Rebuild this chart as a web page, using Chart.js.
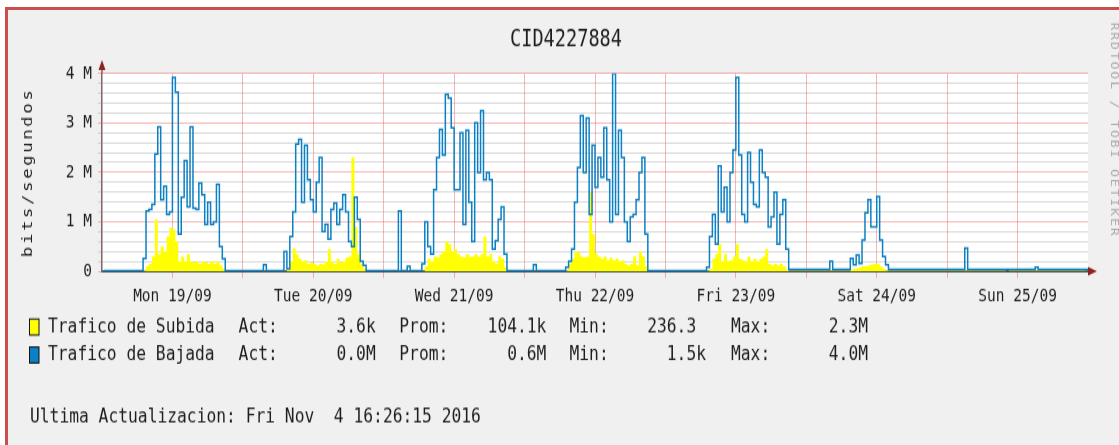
<!DOCTYPE html>
<html lang="es">
<head>
<meta charset="UTF-8">
<title>CID4227884</title>
<script src="https://cdn.jsdelivr.net/npm/chart.js"></script>
<style>
  html, body { margin: 0; padding: 0; background: #fff; }
  body { width: 1119px; height: 445px; position: relative; overflow: hidden; }
  .marco {
    position: absolute; left: 5px; top: 7px; right: 0; bottom: 0;
    border-top: 3px solid #c94f4f; border-left: 3px solid #c94f4f;
    background: #f0f0f0;
  }
  /* rrdtool text is tall and narrow, so the whole canvas is stretched vertically */
  #grafico { position: absolute; left: 0; top: 0; transform: scaleY(1.25); transform-origin: 0 0; }
</style>
</head>
<body>
<div class="marco"></div>
<canvas id="grafico" width="1119" height="356"></canvas>

<script>
// half-hour samples (Mbit/s), one array per day, 00:00 .. 23:30
const bajadaLun = [
  0.0015, 0.01, 0.01, 0.01, 0.01, 0.01, 0.01, 0.01, 0.01, 0.01, 0.01, 0.01, 0.01, 0.01,
  0.26, 1.22, 1.25, 1.35, 2.37, 2.92, 1.45, 1.72, 1.15, 1.2, 3.92, 3.62, 0.75, 1.5,
  2.24, 1.3, 2.92, 1.28, 1.25, 1.78, 1.55, 0.95, 1.4, 0.95, 1.0, 1.76, 0.5, 0.25,
  0.01, 0.01, 0.01, 0.01, 0.01, 0.01
];
const bajadaMar = [
  0.01, 0.01, 0.01, 0.01, 0.01, 0.01, 0.01, 0.13, 0.01, 0.01, 0.01, 0.01, 0.01, 0.01,
  0.4, 0.05, 0.7, 1.2, 2.57, 2.67, 1.4, 2.55, 1.85, 1.45, 1.2, 1.8, 2.3, 0.8,
  0.95, 0.65, 1.25, 1.38, 0.95, 1.25, 1.55, 1.2, 0.6, 0.5, 1.5, 1.05, 0.2, 0.12,
  0.01, 0.01, 0.01, 0.01, 0.01, 0.01
];
const bajadaMie = [
  0.01, 0.01, 0.01, 0.01, 0.01, 1.22, 0.01, 0.01, 0.1, 0.01, 0.01, 0.01, 0.01, 0.15,
  1.0, 0.5, 0.35, 1.65, 2.3, 2.87, 2.35, 3.58, 3.5, 2.9, 1.65, 1.65, 2.8, 0.95,
  2.85, 1.4, 0.6, 3.0, 2.0, 3.25, 1.85, 2.0, 1.85, 0.45, 0.62, 1.05, 1.3, 0.35,
  0.01, 0.01, 0.01, 0.01, 0.01, 0.01
];
const bajadaJue = [
  0.01, 0.01, 0.01, 0.13, 0.01, 0.01, 0.01, 0.01, 0.01, 0.01, 0.01, 0.01, 0.01, 0.01,
  0.08, 0.2, 0.45, 1.4, 2.1, 3.15, 2.0, 3.1, 1.15, 2.55, 1.7, 2.3, 1.9, 2.9,
  1.85, 1.0, 4.0, 1.15, 2.85, 2.3, 1.0, 0.6, 1.1, 1.15, 1.45, 2.0, 2.3, 0.75,
  0.01, 0.01, 0.01, 0.01, 0.01, 0.01
];
const bajadaVie = [
  0.01, 0.01, 0.01, 0.01, 0.01, 0.01, 0.01, 0.01, 0.01, 0.01, 0.01, 0.01, 0.01, 0.01,
  0.08, 0.7, 1.15, 0.55, 2.13, 1.2, 1.7, 1.0, 2.0, 2.45, 3.92, 2.35, 1.15, 1.0,
  2.4, 1.8, 1.35, 1.3, 2.45, 2.0, 1.9, 0.9, 1.1, 1.6, 0.55, 1.15, 1.45, 0.45,
  0.035, 0.035, 0.035, 0.035, 0.035, 0.035
];
const bajadaSab = [
  0.035, 0.035, 0.035, 0.035, 0.035, 0.035, 0.035, 0.035, 0.2, 0.035, 0.035, 0.035, 0.035, 0.035,
  0.035, 0.26, 0.13, 0.33, 0.16, 0.63, 1.18, 1.45, 0.9, 0.9, 1.51, 0.63, 0.3, 0.13,
  0.035, 0.035, 0.035, 0.035, 0.035, 0.035, 0.035, 0.035, 0.035, 0.035, 0.035, 0.035, 0.035, 0.035,
  0.035, 0.035, 0.035, 0.035, 0.035, 0.035
];
const bajadaDom = [
  0.035, 0.035, 0.035, 0.035, 0.035, 0.035, 0.47, 0.035, 0.035, 0.035, 0.035, 0.035, 0.035, 0.035,
  0.035, 0.035, 0.035, 0.035, 0.035, 0.035, 0.035, 0.035, 0.035, 0.035, 0.035, 0.035, 0.035, 0.035,
  0.035, 0.035, 0.08, 0.035, 0.035, 0.035, 0.035, 0.035, 0.035, 0.035, 0.035, 0.035, 0.035, 0.035,
  0.035, 0.035, 0.035, 0.035, 0.035, 0.035
];

const subidaLun = [
  0.005, 0.005, 0.005, 0.005, 0.005, 0.005, 0.005, 0.005, 0.005, 0.005, 0.005, 0.005, 0.005, 0.005,
  0.02, 0.1, 0.15, 0.3, 1.05, 0.35, 0.5, 0.4, 0.7, 0.88, 0.85, 0.6, 0.2, 0.3,
  0.2, 0.35, 0.2, 0.18, 0.2, 0.15, 0.2, 0.18, 0.15, 0.2, 0.15, 0.2, 0.12, 0.05,
  0.005, 0.005, 0.005, 0.005, 0.005, 0.005
];
const subidaMar = [
  0.005, 0.005, 0.005, 0.005, 0.005, 0.005, 0.005, 0.005, 0.005, 0.005, 0.005, 0.005, 0.005, 0.005,
  0.005, 0.03, 0.2, 0.47, 0.35, 0.25, 0.2, 0.22, 0.15, 0.18, 0.15, 0.12, 0.15, 0.14,
  0.2, 0.45, 0.2, 0.15, 0.25, 0.18, 0.2, 0.28, 0.3, 2.3, 0.9, 0.35, 0.15, 0.05,
  0.005, 0.005, 0.005, 0.005, 0.005, 0.005
];
const subidaMie = [
  0.005, 0.005, 0.005, 0.005, 0.005, 0.005, 0.005, 0.005, 0.005, 0.005, 0.005, 0.005, 0.005, 0.005,
  0.1, 0.25, 0.2, 0.3, 0.28, 0.35, 0.4, 0.6, 0.55, 0.4, 0.45, 0.35, 0.3, 0.28,
  0.35, 0.3, 0.3, 0.35, 0.3, 0.35, 0.7, 0.3, 0.35, 0.2, 0.15, 0.3, 0.25, 0.08,
  0.005, 0.005, 0.005, 0.005, 0.005, 0.005
];
const subidaJue = [
  0.005, 0.005, 0.005, 0.005, 0.005, 0.005, 0.005, 0.005, 0.005, 0.005, 0.005, 0.005, 0.005, 0.005,
  0.02, 0.15, 0.25, 0.4, 0.38, 0.3, 0.28, 0.3, 1.6, 0.75, 0.35, 0.3, 0.25, 0.3,
  0.22, 0.28, 0.22, 0.25, 0.2, 0.22, 0.15, 0.12, 0.15, 0.3, 0.12, 0.4, 0.3, 0.1,
  0.005, 0.005, 0.005, 0.005, 0.005, 0.005
];
const subidaVie = [
  0.005, 0.005, 0.005, 0.005, 0.005, 0.005, 0.005, 0.005, 0.005, 0.005, 0.005, 0.005, 0.005, 0.005,
  0.01, 0.05, 0.25, 0.35, 0.55, 0.2, 0.35, 0.2, 0.22, 0.3, 0.55, 0.25, 0.22, 0.2,
  0.3, 0.2, 0.25, 0.2, 0.25, 0.3, 0.45, 0.15, 0.12, 0.15, 0.12, 0.15, 0.1, 0.03,
  0.01, 0.01, 0.01, 0.01, 0.01, 0.01
];
const subidaSab = [
  0.01, 0.01, 0.01, 0.01, 0.01, 0.01, 0.01, 0.01, 0.01, 0.01, 0.01, 0.01, 0.01, 0.01,
  0.01, 0.03, 0.05, 0.06, 0.08, 0.1, 0.1, 0.12, 0.14, 0.15, 0.15, 0.1, 0.05, 0.02,
  0.01, 0.01, 0.01, 0.01, 0.01, 0.01, 0.01, 0.01, 0.01, 0.01, 0.01, 0.01, 0.01, 0.01,
  0.01, 0.01, 0.01, 0.01, 0.01, 0.01
];
const subidaDom = [
  0.01, 0.01, 0.01, 0.01, 0.01, 0.01, 0.01, 0.01, 0.01, 0.01, 0.01, 0.01, 0.01, 0.01,
  0.01, 0.01, 0.01, 0.01, 0.01, 0.01, 0.0002363, 0.01, 0.01, 0.01, 0.01, 0.01, 0.01, 0.01,
  0.01, 0.01, 0.01, 0.01, 0.01, 0.01, 0.01, 0.01, 0.01, 0.01, 0.01, 0.01, 0.01, 0.01,
  0.01, 0.01, 0.01, 0.01, 0.01, 0.0036
];

const diasEtiquetas = ['Mon 19/09', 'Tue 20/09', 'Wed 21/09', 'Thu 22/09', 'Fri 23/09', 'Sat 24/09', 'Sun 25/09'];
const etiquetasY = ['0', '1 M', '2 M', '3 M', '4 M'];

const titulo = 'CID4227884';
const seriesNombres = ['Trafico de Subida', 'Trafico de Bajada'];
const seriesColores = ['#ffff00', '#0b80c3'];
const statsTitulos = ['Act:', 'Prom:', 'Min:', 'Max:'];
const statsSubida = ['3.6k', '104.1k', '236.3 ', '2.3M'];
const statsBajada = ['0.0M', '0.6M', '1.5k', '4.0M'];
const actualizacion = 'Ultima Actualizacion: Fri Nov  4 16:26:15 2016';

const S = 1.25;            // vertical stretch applied by CSS
const Y = v => v / S;      // page pixels -> canvas pixels (vertical)
const MONO = '"DejaVu Sans Mono", monospace';

function puntos(semana) {
  const out = [];
  semana.forEach((dia, d) => dia.forEach((v, i) => out.push({ x: d * 24 + i * 0.5, y: v })));
  out.push({ x: 168, y: out[out.length - 1].y });
  return out;
}

const bajada = puntos([bajadaLun, bajadaMar, bajadaMie, bajadaJue, bajadaVie, bajadaSab, bajadaDom]);
const subida = puntos([subidaLun, subidaMar, subidaMie, subidaJue, subidaVie, subidaSab, subidaDom]);

const esEntero = v => Math.abs(v - Math.round(v)) < 1e-6;
const ROJO = 'rgba(235, 80, 80, 0.42)';
const GRIS = 'rgba(140, 140, 140, 0.34)';

const decorado = {
  id: 'decorado',
  beforeDraw(chart) {
    const { ctx, chartArea: a } = chart;
    ctx.save();
    ctx.fillStyle = '#ffffff';
    ctx.fillRect(a.left, a.top, a.right - a.left, a.bottom - a.top);
    ctx.restore();
  },
  afterDraw(chart) {
    const { ctx, chartArea: a } = chart;
    ctx.save();

    // title
    ctx.fillStyle = '#1e1e1e';
    ctx.font = '18.6px ' + MONO;
    ctx.textAlign = 'center';
    ctx.textBaseline = 'middle';
    ctx.fillText(titulo, 566, Y(40));

    // axis arrows
    ctx.strokeStyle = '#806464';
    ctx.lineWidth = 1.5;
    ctx.beginPath();
    ctx.moveTo(a.left, a.top);
    ctx.lineTo(a.left, Y(69));
    ctx.stroke();
    ctx.fillStyle = '#8e2222';
    ctx.beginPath();
    ctx.moveTo(a.left, Y(60));
    ctx.lineTo(a.left - 3.5, Y(70));
    ctx.lineTo(a.left + 3.5, Y(70));
    ctx.closePath();
    ctx.fill();
    ctx.beginPath();
    ctx.moveTo(a.right + 9, a.bottom);
    ctx.lineTo(a.right, a.bottom - Y(4.5));
    ctx.lineTo(a.right, a.bottom + Y(4.5));
    ctx.closePath();
    ctx.fill();

    // vertical unit label
    ctx.fillStyle = '#1e1e1e';
    ctx.font = '14px ' + MONO;
    ctx.letterSpacing = '2px';
    ctx.save();
    ctx.translate(28, (a.top + a.bottom) / 2);
    ctx.rotate(-Math.PI / 2);
    ctx.fillText('bits/segundos', 0, 0);
    ctx.restore();

    // side watermark
    ctx.save();
    ctx.fillStyle = '#a9a9a9';
    ctx.font = '10.5px ' + MONO;
    ctx.letterSpacing = '1.5px';
    ctx.translate(1113.5, Y(130));
    ctx.rotate(Math.PI / 2);
    ctx.fillText('RRDTOOL / TOBI OETIKER', 0, 0);
    ctx.restore();

    // legend rows with statistics
    ctx.letterSpacing = '0px';
    ctx.font = '16.3px ' + MONO;
    ctx.textBaseline = 'middle';
    const filas = [Y(327), Y(355)];
    const stats = [statsSubida, statsBajada];
    const xTitulos = [238.6, 399.3, 569.5, 731];
    const xValores = [375.7, 546.4, 706, 868];
    filas.forEach((fy, k) => {
      ctx.fillStyle = seriesColores[k];
      ctx.fillRect(29, fy - Y(8), 10, Y(16));
      ctx.strokeStyle = '#111';
      ctx.lineWidth = 1;
      ctx.strokeRect(29.5, fy - Y(8), 9.5, Y(16));
      ctx.fillStyle = '#1e1e1e';
      ctx.textAlign = 'left';
      ctx.fillText(seriesNombres[k], 48, fy);
      statsTitulos.forEach((t, j) => {
        ctx.textAlign = 'left';
        ctx.fillText(t, xTitulos[j], fy);
        ctx.textAlign = 'right';
        ctx.fillText(stats[k][j], xValores[j], fy);
      });
    });

    ctx.textAlign = 'left';
    ctx.fillText(actualizacion, 30, Y(417));
    ctx.restore();
  }
};

Chart.defaults.font.family = MONO;
Chart.defaults.color = '#1e1e1e';

new Chart(document.getElementById('grafico'), {
  type: 'line',
  data: {
    datasets: [
      {
        label: seriesNombres[1],
        data: bajada,
        borderColor: seriesColores[1],
        borderWidth: 1.5,
        pointRadius: 0,
        stepped: true,
        fill: false
      },
      {
        label: seriesNombres[0],
        data: subida,
        borderColor: seriesColores[0],
        backgroundColor: seriesColores[0],
        borderWidth: 0,
        pointRadius: 0,
        stepped: true,
        fill: 'origin'
      }
    ]
  },
  options: {
    responsive: false,
    animation: false,
    layout: { padding: { left: 0, right: 31, top: Y(73.5), bottom: 99 } },
    plugins: {
      legend: { display: false },
      tooltip: { enabled: false },
      title: { display: false }
    },
    scales: {
      x: {
        type: 'linear',
        min: 0,
        max: 168,
        afterFit: s => { s.height = 40; },
        border: { color: '#434c54', width: 2 },
        grid: {
          color: c => (c.tick.value === 0 || c.tick.value === 168) ? 'rgba(0,0,0,0)' : ROJO,
          tickLength: 5.5
        },
        ticks: {
          stepSize: 12,
          autoSkip: false,
          maxRotation: 0,
          padding: 6,
          font: { size: 14.5 },
          callback: v => (v % 24 === 12 ? diasEtiquetas[(v - 12) / 24] : '')
        }
      },
      y: {
        min: 0,
        max: 4,
        afterFit: s => { s.width = 102; },
        border: { color: '#806464', width: 1.5 },
        grid: {
          color: c => (esEntero(c.tick.value) ? ROJO : GRIS),
          tickLength: 4
        },
        ticks: {
          stepSize: 0.2,
          autoSkip: false,
          padding: 6,
          font: { size: 14.5 },
          callback: v => (esEntero(v) ? etiquetasY[Math.round(v)] : '')
        }
      }
    }
  },
  plugins: [decorado]
});
</script>
</body>
</html>
